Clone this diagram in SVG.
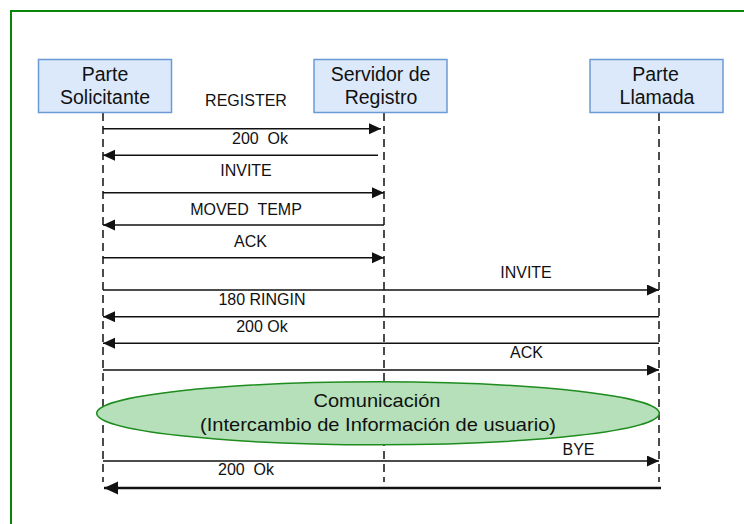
<svg xmlns="http://www.w3.org/2000/svg" width="744" height="524" viewBox="0 0 744 524">
  <style>
    .frame { fill: #ffffff; stroke: #0a850a; stroke-width: 2; }
    .box { fill: #dce9fa; stroke: #6b9ad6; stroke-width: 1.5; }
    .btxt { font-family: "Liberation Sans", Arial, sans-serif; font-size: 19.5px; fill: #111; text-anchor: middle; }
    .lbl { font-family: "Liberation Sans", Arial, sans-serif; font-size: 16px; fill: #111; text-anchor: middle; }
    .life { stroke: #111; stroke-width: 1.5; stroke-dasharray: 8 5; fill: none; }
    .msg { stroke: #111; stroke-width: 1.5; fill: none; marker-end: url(#ah); }
    .msgb { stroke: #111; stroke-width: 2.6; fill: none; marker-end: url(#ahb); }
    .ell { fill: #b5e0ba; stroke: #1e8c1e; stroke-width: 1.5; }
    .etxt { font-family: "Liberation Sans", Arial, sans-serif; font-size: 18.5px; fill: #111; text-anchor: middle; }
  </style>
  <defs>
    <marker id="ah" markerUnits="userSpaceOnUse" markerWidth="13" markerHeight="12" refX="12" refY="5.5" orient="auto">
      <path d="M0,0 L12,5.5 L0,11 Z" fill="#111"/>
    </marker>
    <marker id="ahb" markerUnits="userSpaceOnUse" markerWidth="15" markerHeight="14" refX="14" refY="6.5" orient="auto">
      <path d="M0,0 L14,6.5 L0,13 Z" fill="#111"/>
    </marker>
  </defs>

  <rect width="744" height="524" fill="#ffffff"/>
  <rect class="frame" x="11" y="11" width="760" height="540"/>

  <g id="lifelines">
    <line class="life" x1="103" y1="113" x2="103" y2="482"/>
    <line class="life" x1="384" y1="113" x2="384" y2="482"/>
    <line class="life" x1="659" y1="113" x2="659" y2="482"/>
  </g>

  <g id="node-solicitante">
    <rect class="box" x="38.5" y="59.5" width="133" height="53"/>
    <text class="btxt" x="105" y="80.5">Parte</text>
    <text class="btxt" x="105" y="103.5">Solicitante</text>
  </g>
  <g id="node-servidor">
    <rect class="box" x="314" y="59.5" width="133" height="53"/>
    <text class="btxt" x="380.5" y="80.5">Servidor de</text>
    <text class="btxt" x="381" y="103.5">Registro</text>
  </g>
  <g id="node-llamada">
    <rect class="box" x="590" y="59.5" width="133" height="53"/>
    <text class="btxt" x="655.5" y="80.5">Parte</text>
    <text class="btxt" x="657" y="103.5">Llamada</text>
  </g>

  <g id="node-comunicacion">
    <ellipse class="ell" cx="378" cy="413.3" rx="281.3" ry="31.5"/>
    <text class="etxt" x="377" y="406.7" textLength="127" lengthAdjust="spacingAndGlyphs">Comunicación</text>
    <text class="etxt" x="378" y="431" textLength="356" lengthAdjust="spacingAndGlyphs">(Intercambio de Información de usuario)</text>
  </g>

  <g id="connectors">
    <line class="msg" x1="103" y1="128.7" x2="381" y2="128.7"/>
    <line class="msg" x1="378" y1="155.3" x2="103" y2="155.3"/>
    <line class="msg" x1="103" y1="192.7" x2="384" y2="192.7"/>
    <line class="msg" x1="384" y1="225" x2="103" y2="225"/>
    <line class="msg" x1="103" y1="257.7" x2="384" y2="257.7"/>
    <line class="msg" x1="103" y1="290" x2="659" y2="290"/>
    <line class="msg" x1="659" y1="316.7" x2="103" y2="316.7"/>
    <line class="msg" x1="659" y1="343.3" x2="103" y2="343.3"/>
    <line class="msg" x1="103" y1="370" x2="659" y2="370"/>
    <line class="msg" x1="103" y1="461" x2="659" y2="461"/>
    <line class="msgb" x1="661" y1="488" x2="104" y2="488"/>
  </g>

  <g id="labels">
    <text class="lbl" x="246" y="105.5">REGISTER</text>
    <text class="lbl" x="260" y="144" xml:space="preserve">200  Ok</text>
    <text class="lbl" x="246" y="176">INVITE</text>
    <text class="lbl" x="246" y="215" xml:space="preserve">MOVED  TEMP</text>
    <text class="lbl" x="250.5" y="247.3">ACK</text>
    <text class="lbl" x="526" y="278.3">INVITE</text>
    <text class="lbl" x="262" y="305">180 RINGIN</text>
    <text class="lbl" x="262" y="331.7">200 Ok</text>
    <text class="lbl" x="526.5" y="358.3">ACK</text>
    <text class="lbl" x="578.5" y="455">BYE</text>
    <text class="lbl" x="246" y="474.5" xml:space="preserve">200  Ok</text>
  </g>
</svg>
